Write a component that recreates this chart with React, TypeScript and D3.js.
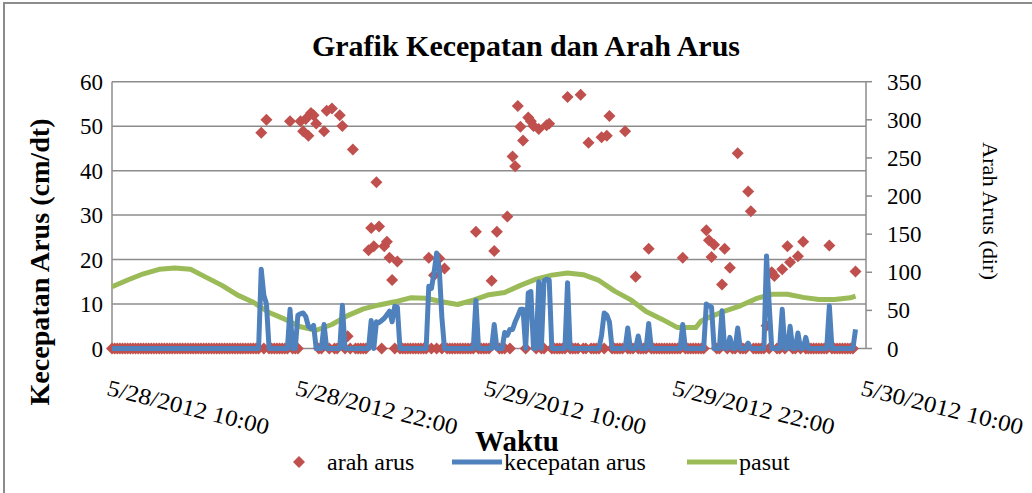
import React from 'react';
import * as d3 from 'd3';

// Time axis: 10-minute steps starting 5/28/2012 10:00 (index 0); labels every 12 hours
const timeLabels = ['5/28/2012 10:00', '5/28/2012 22:00', '5/29/2012 10:00', '5/29/2012 22:00', '5/30/2012 10:00'];
const labelIndex = [0, 72, 144, 216, 288];
const speedTicks = [0, 10, 20, 30, 40, 50, 60];
const dirTicks = [0, 50, 100, 150, 200, 250, 300, 350];

// kecepatan arus (cm/dt), one value per 10 minutes
const speed = [
  0, 0, 0, 0, 0, 0, 0, 0, 0, 0, 0, 0,
  0, 0, 0, 0, 0, 0, 0, 0, 0, 0, 0, 0,
  0, 0, 0, 0, 0, 0, 0, 0, 0, 0, 0, 0,
  0, 0, 0, 0, 0, 0, 0, 0, 0, 0, 0, 0,
  0, 0, 0, 0, 0, 0, 0, 0, 0, 17.8, 12, 10,
  0, 0, 0, 0, 0, 0, 0, 0, 8.8, 0, 0, 7.5,
  7.8, 8.0, 7.2, 5.0, 4.5, 5.2, 0, 0, 0, 5.4, 0, 0,
  0, 0, 0, 0, 9.7, 0, 0, 0, 0, 0, 0, 0,
  0, 0, 0, 6.3, 0, 6.0, 5.8, 6.3, 6.8, 7.6, 8.4, 6.0,
  9.5, 9.3, 0, 0, 0, 0, 0, 0, 0, 0, 0, 0,
  0, 14, 13.5, 17, 21.5, 18, 7, 0, 0, 0, 0, 0,
  0, 0, 0, 0, 0, 0, 0, 10.8, 0, 0, 0, 0,
  0, 0, 5.4, 0, 0, 0, 3.6, 3, 4.3, 4.3, 6, 7.3,
  8.8, 8.8, 0, 12.5, 12.8, 0, 0, 15, 0, 15.2, 15.6, 15.4,
  0, 0, 0, 0, 0, 0, 14.8, 0, 0, 0, 0, 0,
  0, 0, 0, 0, 0, 0, 0, 3, 8, 7.5, 6, 0,
  0, 0, 0, 0, 0, 4.6, 0, 0, 0, 2.8, 0, 0,
  0, 5.6, 0, 0, 0, 0, 0, 0, 0, 0, 0, 0,
  0, 0, 5.4, 0, 0, 0, 0, 0, 0, 0, 0, 10,
  9.6, 9.3, 0, 0, 0, 8.5, 0, 0, 2.5, 0, 0, 4.6,
  0, 0, 0, 1.2, 0, 0, 0, 0, 0, 0, 20.8, 10,
  0, 0, 0, 0, 8.8, 0, 0, 5, 0, 0, 3.5, 0,
  0, 2.5, 0, 0, 0, 0, 0, 0, 0, 0, 9.6, 0,
  0, 0, 0, 0, 0, 0, 0, 0, 4.3,
];

// arah arus (degrees), one value per 10 minutes
const direction = [
  0, 0, 0, 0, 0, 0, 0, 0, 0, 0, 0, 0,
  0, 0, 0, 0, 0, 0, 0, 0, 0, 0, 0, 0,
  0, 0, 0, 0, 0, 0, 0, 0, 0, 0, 0, 0,
  0, 0, 0, 0, 0, 0, 0, 0, 0, 0, 0, 0,
  0, 0, 0, 0, 0, 0, 0, 0, 0, 283, 0, 300,
  0, 0, 0, 0, 0, 0, 0, 0, 298, 0, 0, 0,
  298, 285, 301, 279, 309, 306, 295, 0, 0, 285, 312, 0,
  315, 0, 0, 306, 292, 0, 16, 0, 261, 0, 0, 0,
  0, 0, 129, 158, 134, 218, 160, 0, 134, 140, 119, 90,
  0, 114, 0, 0, 0, 0, 0, 0, 0, 0, 0, 0,
  0, 119, 0, 96, 0, 118, 0, 105, 0, 0, 0, 0,
  0, 0, 0, 0, 0, 0, 0, 153, 0, 0, 0, 0,
  0, 89, 128, 153, 0, 0, 0, 173, 0, 252, 239, 318,
  291, 273, 0, 303, 298, 292, 0, 288, 0, 0, 293, 295,
  0, 0, 0, 0, 0, 0, 330, 0, 0, 0, 0, 333,
  0, 0, 270, 0, 0, 0, 0, 277, 0, 279, 305, 0,
  0, 0, 0, 0, 285, 0, 0, 0, 94, 0, 0, 0,
  0, 131, 0, 0, 0, 0, 0, 0, 0, 0, 0, 0,
  0, 0, 119, 0, 0, 0, 0, 0, 0, 0, 0, 155,
  142, 120, 136, 0, 0, 84, 131, 0, 106, 0, 0, 256,
  0, 0, 0, 206, 180, 0, 0, 0, 0, 0, 30, 0,
  100, 95, 0, 0, 104, 0, 134, 113, 0, 0, 121, 0,
  140, 0, 0, 0, 0, 0, 0, 0, 0, 0, 135, 0,
  0, 0, 0, 0, 0, 0, 0, 0, 101,
];

// pasut: [10-minute index, level]
const tidePoints: [number, number][] = [
  [0, 13.9], [6, 15.4], [12, 16.8], [18, 17.8], [24, 18.1], [30, 17.8], [36, 16.0], [42, 14.2],
  [48, 12.0], [54, 10.4], [60, 8.1], [66, 6.6], [72, 4.9], [78, 4.1], [84, 5.4], [90, 7.4],
  [96, 8.9], [102, 9.8], [108, 10.5], [114, 11.4], [120, 11.3], [126, 10.5], [132, 9.9], [138, 10.9],
  [144, 12.1], [150, 12.6], [156, 14.2], [162, 15.6], [168, 16.5], [174, 17.0], [180, 16.6], [186, 15.3],
  [192, 12.9], [198, 11.0], [204, 8.3], [210, 6.6], [216, 4.7], [223, 4.7], [225, 6.2], [228, 7.0],
  [234, 8.4], [240, 9.6], [246, 11.2], [252, 12.2], [258, 12.2], [264, 11.5], [270, 11.0], [276, 11.0],
  [282, 11.4], [284, 11.8],
];

const RED = '#C0504D';
const BLUE = '#4F81BD';
const GREEN = '#9BBB59';
const GRID = '#8C8C8C';
const FONT = '"Liberation Serif", "Times New Roman", serif';

export default function App() {
  const x = d3.scaleLinear().domain([0, 288]).range([112, 866]);
  const yL = d3.scaleLinear().domain([0, 60]).range([348.5, 81.7]);
  const yR = d3.scaleLinear().domain([0, 350]).range([348.5, 81.7]);

  const speedLine = d3.line<number>().x((_, i) => x(i)).y((d) => yL(d))(speed) || '';
  const tideLine = d3.line<[number, number]>().x((d) => x(d[0])).y((d) => yL(d[1]))(tidePoints) || '';
  const diamond = d3.symbol(d3.symbolSquare, 72)() || '';

  return (
    <svg width={1032} height={493} style={{ position: 'absolute', left: 0, top: 0, background: '#fff' }}
      fontFamily={FONT}>
      <rect x={0} y={0} width={1032} height={493} fill="#fff" />
      <rect x={4} y={3} width={1040} height={500} fill="none" stroke={GRID} strokeWidth={2} />

      <text x={526} y={56} textAnchor="middle" fontSize={30} fontWeight="bold" textLength={428}
        lengthAdjust="spacingAndGlyphs">Grafik Kecepatan dan Arah Arus</text>

      {speedTicks.map((t) => (
        <line key={'g' + t} x1={112} x2={866} y1={yL(t)} y2={yL(t)} stroke={GRID} strokeWidth={1.5} />
      ))}
      <line x1={112} x2={112} y1={yL(60)} y2={yL(0)} stroke={GRID} strokeWidth={1.5} />
      <line x1={866} x2={866} y1={yR(350)} y2={yR(0)} stroke={GRID} strokeWidth={1.5} />
      {dirTicks.map((t) => (
        <line key={'rt' + t} x1={866} x2={872} y1={yR(t)} y2={yR(t)} stroke={GRID} strokeWidth={1.5} />
      ))}

      {speedTicks.map((t) => (
        <text key={'lt' + t} x={103} y={yL(t)} dy="0.35em" textAnchor="end" fontSize={23}>{t}</text>
      ))}
      {dirTicks.map((t) => (
        <text key={'rl' + t} x={887} y={yR(t)} dy="0.35em" textAnchor="start" fontSize={23}>{t}</text>
      ))}

      {timeLabels.map((l, k) => (
        <text key={l} transform={`translate(${x(labelIndex[k]) - 2},378) rotate(14)`} dy="0.75em"
          fontSize={23} textLength={166} lengthAdjust="spacingAndGlyphs">{l}</text>
      ))}

      <text transform="translate(49,262) rotate(-90)" textAnchor="middle" fontSize={28} fontWeight="bold"
        textLength={287} lengthAdjust="spacingAndGlyphs">Kecepatan Arus (cm/dt)</text>
      <text transform="translate(983,211) rotate(90)" textAnchor="middle" fontSize={22}
        textLength={138} lengthAdjust="spacingAndGlyphs">Arah Arus (dir)</text>
      <text x={517} y={451} textAnchor="middle" fontSize={29} fontWeight="bold">Waktu</text>

      {direction.map((d, i) => (
        <path key={'d' + i} d={diamond} transform={`translate(${x(i)},${yR(d)}) rotate(45)`} fill={RED} />
      ))}
      <path d={tideLine} fill="none" stroke={GREEN} strokeWidth={5} strokeLinejoin="round" />
      <path d={speedLine} fill="none" stroke={BLUE} strokeWidth={5} strokeLinejoin="round" />

      <path d={diamond} transform="translate(299,462) rotate(45)" fill={RED} />
      <text x={327} y={470} fontSize={24}>arah arus</text>
      <line x1={452} x2={502} y1={462} y2={462} stroke={BLUE} strokeWidth={5} />
      <text x={504} y={470} fontSize={24}>kecepatan arus</text>
      <line x1={687} x2={737} y1={462} y2={462} stroke={GREEN} strokeWidth={5} />
      <text x={739} y={470} fontSize={24}>pasut</text>
    </svg>
  );
}
